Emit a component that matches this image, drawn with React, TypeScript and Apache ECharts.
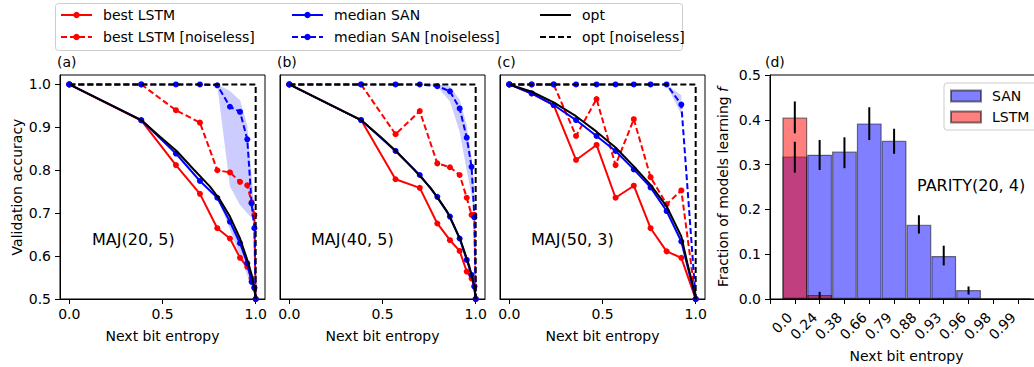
import React, { useEffect, useRef } from "react";
import * as echarts from "echarts";

const FONT = "DejaVu Sans";

// ---------- Panel (a): MAJ(20, 5) ----------
const xA = [0, 0.386, 0.572, 0.701, 0.794, 0.862, 0.916, 0.955, 0.978, 0.993, 1.0];
const lstmA = [1.0, 0.916, 0.812, 0.745, 0.665, 0.641, 0.596, 0.575, 0.548, 0.526, 0.5];
const lstmNoiselessA = [1.0, 1.0, 0.94, 0.911, 0.8, 0.795, 0.773, 0.765, 0.725, 0.696, 0.5];
const sanA = [1.0, 0.917, 0.839, 0.775, 0.736, 0.68, 0.63, 0.583, 0.54, 0.526, 0.5];
const sanNoiselessA = [1.0, 1.0, 1.0, 1.0, 0.998, 0.948, 0.936, 0.872, 0.723, 0.665, 0.5];
const optXA = [0, 0.386, 0.487, 0.576, 0.665, 0.755, 0.808, 0.862, 0.916, 0.952, 0.979, 0.993, 1.0];
const optYA = [1.0, 0.917, 0.878, 0.845, 0.803, 0.762, 0.731, 0.692, 0.641, 0.595, 0.556, 0.525, 0.5];
const bandXA = [0.794, 0.862, 0.916, 0.955, 0.978, 0.993];
const bandLoA = [0.998, 0.762, 0.719, 0.7, 0.69, 0.685];
const bandHiA = [1.0, 0.985, 0.963, 0.905, 0.79, 0.7];
const bandSolidXA = [0.794, 0.862, 0.916, 0.955, 0.978, 0.993, 1.0];
const bandSolidLoA = [0.735, 0.662, 0.6, 0.555, 0.525, 0.512, 0.5];
const bandSolidHiA = [0.737, 0.69, 0.64, 0.59, 0.545, 0.528, 0.5];

// ---------- Panel (b): MAJ(40, 5) ----------
const xB = [0, 0.385, 0.57, 0.7, 0.794, 0.862, 0.914, 0.952, 0.978, 0.993, 1.0];
const lstmB = [1.0, 0.917, 0.779, 0.759, 0.676, 0.637, 0.612, 0.564, 0.548, 0.53, 0.5];
const lstmNoiselessB = [1.0, 1.0, 0.884, 0.938, 0.816, 0.807, 0.789, 0.736, 0.696, 0.696, 0.5];
const sanB = [1.0, 0.917, 0.845, 0.789, 0.738, 0.692, 0.641, 0.591, 0.556, 0.529, 0.5];
const sanNoiselessB = [1.0, 1.0, 1.0, 1.0, 0.996, 0.984, 0.944, 0.876, 0.808, 0.69, 0.5];
const optXB = [0, 0.385, 0.489, 0.579, 0.668, 0.758, 0.848, 0.919, 0.964, 0.991, 1.0];
const optYB = [1.0, 0.917, 0.878, 0.842, 0.802, 0.759, 0.703, 0.637, 0.579, 0.533, 0.5];
const bandXB = [0.7, 0.794, 0.862, 0.914, 0.952, 0.978, 0.993];
const bandLoB = [1.0, 0.995, 0.96, 0.89, 0.8, 0.74, 0.7];
const bandHiB = [1.0, 1.0, 0.995, 0.965, 0.905, 0.83, 0.76];

// ---------- Panel (c): MAJ(50, 3) ----------
const xC = [0, 0.12, 0.238, 0.358, 0.468, 0.57, 0.668, 0.758, 0.844, 0.923, 1.0];
const lstmC = [1.0, 0.979, 0.952, 0.824, 0.859, 0.736, 0.764, 0.665, 0.611, 0.596, 0.5];
const lstmNoiselessC = [1.0, 1.0, 1.0, 0.88, 0.966, 0.812, 0.919, 0.784, 0.721, 0.753, 0.5];
const sanC = [1.0, 0.979, 0.952, 0.917, 0.88, 0.845, 0.802, 0.76, 0.705, 0.634, 0.5];
const sanNoiselessC = [1.0, 1.0, 1.0, 1.0, 1.0, 1.0, 1.0, 1.0, 1.0, 0.953, 0.5];
const optXC = [0, 0.12, 0.238, 0.358, 0.468, 0.57, 0.668, 0.758, 0.844, 0.923, 0.955, 0.982, 1.0];
const optYC = [1.0, 0.983, 0.958, 0.926, 0.89, 0.853, 0.809, 0.766, 0.716, 0.646, 0.584, 0.537, 0.5];
const bandXC = [0.758, 0.844, 0.923];
const bandLoC = [1.0, 0.998, 0.93];
const bandHiC = [1.0, 1.0, 0.975];

// opt [noiseless] (same for all MAJ panels)
const optNoiselessX = [0, 1.0, 1.0];
const optNoiselessY = [1.0, 1.0, 0.5];

// ---------- Panel (d): PARITY(20, 4) ----------
const entropyLabels = ["0.0", "0.24", "0.38", "0.66", "0.79", "0.88", "0.93", "0.96", "0.98", "0.99"];
const sanFrac = [0.318, 0.322, 0.329, 0.392, 0.353, 0.166, 0.096, 0.02, 0, 0];
const sanErrLo = [0.282, 0.288, 0.292, 0.355, 0.324, 0.146, 0.075, 0.01, null, null];
const sanErrHi = [0.351, 0.355, 0.361, 0.428, 0.38, 0.187, 0.119, 0.028, null, null];
const lstmFrac = [0.405, 0.009, 0, 0, 0, 0, 0, 0, 0, 0];
const lstmErrLo = [0.37, 0.0, null, null, null, null, null, null, null, null];
const lstmErrHi = [0.441, 0.016, null, null, null, null, null, null, null, null];

const majTicks = [0.5, 0.6, 0.7, 0.8, 0.9, 1.0];
const xTicks = [0, 0.5, 1.0];

const RED = "#ff0000";
const BLUE = "#0000ff";
const BLACK = "#000000";
const DASH = [6, 3];

const axisFont = { fontFamily: FONT, fontSize: 14, color: "#000" };

function lineSeries(p: number, name: string, xs: number[], ys: number[], color: string, dashed: boolean, marker: boolean, z: number) {
  return {
    type: "line",
    name,
    xAxisIndex: p,
    yAxisIndex: p,
    data: xs.map((x, i) => [x, ys[i]]),
    symbol: marker ? "circle" : "none",
    symbolSize: 6,
    showSymbol: marker,
    lineStyle: { color, width: 2, type: dashed ? DASH : "solid" },
    itemStyle: { color },
    emphasis: { disabled: true },
    z,
  };
}

function bandSeries(p: number, xs: number[], lo: number[], hi: number[]) {
  return {
    type: "custom",
    xAxisIndex: p,
    yAxisIndex: p,
    data: [[xs[0], lo[0]]],
    z: 1,
    silent: true,
    renderItem: (_params: any, api: any) => {
      const up = xs.map((x, i) => api.coord([x, hi[i]]));
      const dn = xs.map((x, i) => api.coord([x, lo[i]])).reverse();
      return {
        type: "polygon",
        shape: { points: up.concat(dn) },
        style: { fill: "rgba(0,0,255,0.2)", stroke: "none" },
      };
    },
  };
}

function panelSeries(p: number, xs: number[], lstm: number[], lstmN: number[], san: number[], sanN: number[], ox: number[], oy: number[]) {
  return [
    lineSeries(p, "best LSTM", xs, lstm, RED, false, true, 2),
    lineSeries(p, "best LSTM [noiseless]", xs, lstmN, RED, true, true, 3),
    lineSeries(p, "median SAN", xs, san, BLUE, false, true, 4),
    lineSeries(p, "median SAN [noiseless]", xs, sanN, BLUE, true, true, 5),
    lineSeries(p, "opt", ox, oy, BLACK, false, false, 6),
    lineSeries(p, "opt [noiseless]", optNoiselessX, optNoiselessY, BLACK, true, false, 7),
  ];
}

const catsD = ["_l", ...entropyLabels, "_r"];

export default function App() {
  const ref = useRef<HTMLDivElement>(null);
  useEffect(() => {
    if (!ref.current) return;
    const chart = echarts.init(ref.current, null, { renderer: "svg" });

    const gridBase = { show: true, borderColor: "#000", borderWidth: 1, backgroundColor: "transparent", containLabel: false, outerBoundsMode: "none" };
    const grids = [
      { left: 60, top: 75, width: 205, height: 224 },
      { left: 280, top: 75, width: 205, height: 224 },
      { left: 500, top: 75, width: 205, height: 224 },
      { left: 770, top: 75, width: 273, height: 224 },
    ].map((g) => ({ ...gridBase, ...g }));

    const xAxes: any[] = [0, 1, 2].map((i) => ({
      type: "value",
      gridIndex: i,
      min: -0.05,
      max: 1.05,
      splitLine: { show: false },
      axisLine: { show: true, onZero: false, lineStyle: { color: "#000", width: 1 } },
      axisTick: { show: true, length: 5, customValues: xTicks, lineStyle: { color: "#000" } },
      axisLabel: { ...axisFont, margin: 8, customValues: xTicks, formatter: (v: number) => v.toFixed(1) },
      name: "Next bit entropy",
      nameLocation: "middle",
      nameGap: 30,
      nameTextStyle: axisFont,
    }));
    xAxes.push({
      type: "category",
      gridIndex: 3,
      data: catsD,
      boundaryGap: false,
      splitLine: { show: false },
      axisLine: { show: true, onZero: false, lineStyle: { color: "#000", width: 1 } },
      axisTick: { show: true, length: 5, interval: 0, lineStyle: { color: "#000" } },
      axisLabel: {
        ...axisFont,
        interval: 0,
        rotate: 45,
        margin: 11,
        padding: [0, 7, 0, 0],
        formatter: (v: string) => (v.startsWith("_") ? "" : v),
      },
      name: "Next bit entropy",
      nameLocation: "middle",
      nameGap: 49,
      nameTextStyle: axisFont,
    });

    const yAxes: any[] = [0, 1, 2].map((i) => ({
      type: "value",
      gridIndex: i,
      min: 0.5,
      max: 1.022,
      splitLine: { show: false },
      axisLine: { show: true, onZero: false, lineStyle: { color: "#000", width: 1 } },
      axisTick: { show: i === 0, length: 5, customValues: majTicks, lineStyle: { color: "#000" } },
      axisLabel: { ...axisFont, show: i === 0, margin: 9, customValues: majTicks, formatter: (v: number) => v.toFixed(1) },
      name: i === 0 ? "Validation accuracy" : "",
      nameLocation: "middle",
      nameGap: 36,
      nameTextStyle: axisFont,
    }));
    yAxes.push({
      type: "value",
      gridIndex: 3,
      min: 0,
      max: 0.5,
      interval: 0.1,
      splitLine: { show: false },
      axisLine: { show: true, onZero: false, lineStyle: { color: "#000", width: 1 } },
      axisTick: { show: true, length: 5, lineStyle: { color: "#000" } },
      axisLabel: { ...axisFont, margin: 9, formatter: (v: number) => v.toFixed(1) },
      name: "Fraction of models learning {i|f}",
      nameLocation: "middle",
      nameGap: 40,
      nameTextStyle: { ...axisFont, rich: { i: { fontFamily: FONT, fontSize: 14, fontStyle: "italic", color: "#000" } } },
    });

    const errData: number[][] = [];
    sanErrLo.forEach((lo, i) => {
      if (lo !== null && sanErrHi[i] !== null) errData.push([i + 1, lo as number, sanErrHi[i] as number]);
    });
    lstmErrLo.forEach((lo, i) => {
      if (lo !== null && lstmErrHi[i] !== null) errData.push([i + 1, lo as number, lstmErrHi[i] as number]);
    });

    const series: any[] = [
      bandSeries(0, bandXA, bandLoA, bandHiA),
      bandSeries(0, bandSolidXA, bandSolidLoA, bandSolidHiA),
      ...panelSeries(0, xA, lstmA, lstmNoiselessA, sanA, sanNoiselessA, optXA, optYA),
      bandSeries(1, bandXB, bandLoB, bandHiB),
      ...panelSeries(1, xB, lstmB, lstmNoiselessB, sanB, sanNoiselessB, optXB, optYB),
      bandSeries(2, bandXC, bandLoC, bandHiC),
      ...panelSeries(2, xC, lstmC, lstmNoiselessC, sanC, sanNoiselessC, optXC, optYC),
      {
        type: "bar",
        name: "SAN",
        xAxisIndex: 3,
        yAxisIndex: 3,
        data: ["-", ...sanFrac, "-"],
        barWidth: "100%",
        barGap: "-100%",
        itemStyle: { color: "rgba(0,0,255,0.5)", borderColor: "rgba(0,0,0,0.5)", borderWidth: 1.2 },
        emphasis: { disabled: true },
        z: 2,
      },
      {
        type: "bar",
        name: "LSTM",
        xAxisIndex: 3,
        yAxisIndex: 3,
        data: ["-", ...lstmFrac, "-"],
        barWidth: "100%",
        barGap: "-100%",
        itemStyle: { color: "rgba(255,0,0,0.5)", borderColor: "rgba(0,0,0,0.5)", borderWidth: 1.2 },
        emphasis: { disabled: true },
        z: 3,
      },
      {
        type: "custom",
        xAxisIndex: 3,
        yAxisIndex: 3,
        data: errData,
        z: 5,
        silent: true,
        renderItem: (_params: any, api: any) => {
          const x = api.value(0);
          const p1 = api.coord([x, api.value(1)]);
          const p2 = api.coord([x, api.value(2)]);
          return {
            type: "line",
            shape: { x1: p1[0], y1: p1[1], x2: p2[0], y2: p2[1] },
            style: { stroke: "#000", lineWidth: 2 },
          };
        },
      },
    ];

    const legendBase = {
      orient: "vertical",
      top: 8,
      padding: 0,
      itemWidth: 31,
      itemHeight: 8,
      itemGap: 8,
      selectedMode: false,
      textStyle: { fontFamily: FONT, fontSize: 14, color: "#000", lineHeight: 14, padding: [0, 0, 0, 6] },
    };

    const option: any = {
      animation: false,
      backgroundColor: "#fff",
      grid: grids,
      xAxis: xAxes,
      yAxis: yAxes,
      legend: [
        { ...legendBase, left: 60, data: ["best LSTM", "best LSTM [noiseless]"] },
        { ...legendBase, left: 291, data: ["median SAN", "median SAN [noiseless]"] },
        {
          ...legendBase,
          left: 539,
          data: [
            { name: "opt", itemStyle: { opacity: 0 } },
            { name: "opt [noiseless]", itemStyle: { opacity: 0 } },
          ],
        },
        {
          orient: "vertical",
          left: 944,
          top: 83,
          padding: [6, 60, 6, 6],
          itemWidth: 30,
          itemHeight: 11,
          itemGap: 7,
          selectedMode: false,
          backgroundColor: "rgba(255,255,255,0.8)",
          borderColor: "#ccc",
          borderWidth: 1,
          borderRadius: 3,
          data: [
            { name: "SAN", icon: "rect" },
            { name: "LSTM", icon: "rect" },
          ],
          textStyle: { fontFamily: FONT, fontSize: 14, color: "#000", lineHeight: 14, padding: [0, 0, 0, 6] },
        },
      ],
      graphic: [
        { type: "rect", left: 55, top: 3, z: -10, shape: { width: 627, height: 47, r: 3 }, style: { fill: "#fff", stroke: "#cccccc", lineWidth: 1 } },
        { type: "text", left: 57, top: 55, style: { text: "(a)", font: `14px '${FONT}'`, fill: "#000" } },
        { type: "text", left: 277, top: 55, style: { text: "(b)", font: `14px '${FONT}'`, fill: "#000" } },
        { type: "text", left: 497, top: 55, style: { text: "(c)", font: `14px '${FONT}'`, fill: "#000" } },
        { type: "text", left: 765, top: 55, style: { text: "(d)", font: `14px '${FONT}'`, fill: "#000" } },
        { type: "text", left: 92, top: 231, z: 20, style: { text: "MAJ(20, 5)", font: `16px '${FONT}'`, fill: "#000" } },
        { type: "text", left: 311, top: 231, z: 20, style: { text: "MAJ(40, 5)", font: `16px '${FONT}'`, fill: "#000" } },
        { type: "text", left: 531, top: 231, z: 20, style: { text: "MAJ(50, 3)", font: `16px '${FONT}'`, fill: "#000" } },
        { type: "text", left: 917, top: 177, z: 20, style: { text: "PARITY(20, 4)", font: `16px '${FONT}'`, fill: "#000" } },
      ],
      series,
    };

    chart.setOption(option);
    return () => chart.dispose();
  }, []);

  return <div ref={ref} style={{ position: "fixed", left: 0, top: 0, width: 1050, height: 367, background: "#fff" }} />;
}
